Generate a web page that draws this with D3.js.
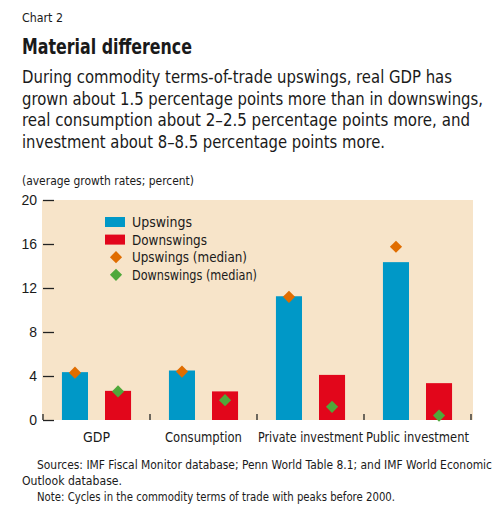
<!DOCTYPE html>
<html lang="en">
<head>
<meta charset="UTF-8">
<title>Material difference</title>
<script src="https://d3js.org/d3.v7.min.js"></script>
<style>
  body { margin: 0; background: #fff; }
  svg { display: block; }
  text { font-family: "DejaVu Sans Condensed", "Liberation Sans", sans-serif; fill: #1a1a1a; }
  .tick text { font-size: 14px; }
</style>
</head>
<body>
<svg id="chart" width="500" height="514"></svg>
<script>
// data
const categories = ["GDP", "Consumption", "Private investment", "Public investment"];
const upswings = [4.35, 4.5, 11.25, 14.35];
const downswings = [2.65, 2.6, 4.1, 3.35];
const upMedian = [4.3, 4.4, 11.2, 15.75];
const downMedian = [2.6, 1.8, 1.2, 0.4];
const yTicks = [0, 4, 8, 12, 16, 20];
const seriesNames = ["Upswings", "Downswings"];
const legendLabels = ["Upswings", "Downswings", "Upswings (median)", "Downswings (median)"];

const colors = { up: "#0098c7", down: "#e2061b", upMed: "#e06d00", downMed: "#4fa83a", bg: "#f7e4c9" };

const svg = d3.select("#chart");

// squeeze text to the condensed widths of the original typeface
function fit(sel, w) {
  sel.attr("textLength", w).attr("lengthAdjust", "spacingAndGlyphs");
  return sel;
}
function addText(x, y, size, str, w) {
  const t = svg.append("text").attr("x", x).attr("y", y).style("font-size", size + "px").text(str);
  if (w) fit(t, w);
  return t;
}

// header text
addText(22, 22, 12.5, "Chart 2", 41);
addText(22, 54, 20.5, "Material difference", 170).style("font-weight", "bold");
const subtitle = [
  "During commodity terms-of-trade upswings, real GDP has",
  "grown about 1.5 percentage points more than in downswings,",
  "real consumption about 2\u20132.5 percentage points more, and",
  "investment about 8\u20138.5 percentage points more."
];
const subtitleW = [430, 461, 448, 363];
subtitle.forEach((s, i) => addText(22, 83 + i * 21.7, 17, s, subtitleW[i]));
addText(22, 185, 12.5, "(average growth rates; percent)", 172);

// plot
const plotL = 43, plotR = 471, plotT = 200, plotB = 420;

const x0 = d3.scaleBand().domain(categories).range([plotL, plotR]);
const x1 = d3.scaleBand().domain(seriesNames).range([0, x0.bandwidth()])
  .paddingInner(0.395).paddingOuter(0.44);
const y = d3.scaleLinear().domain([0, 20]).range([plotB, plotT]);

svg.append("rect").attr("x", plotL - 1).attr("y", plotT).attr("width", plotR - plotL + 3).attr("height", plotB - plotT)
  .attr("fill", colors.bg);

// y axis, ticks inside the plot
const yAxis = svg.append("g").attr("transform", `translate(${plotL},0)`)
  .call(d3.axisLeft(y).tickValues(yTicks).tickSize(-11).tickPadding(6));
yAxis.select(".domain").remove();
yAxis.selectAll(".tick line").attr("stroke", "#222").attr("stroke-width", 1.3);
yAxis.selectAll(".tick text").attr("fill", "#1a1a1a").style("font-family", "Liberation Sans, sans-serif");

// group boundary ticks along the bottom
const bounds = categories.map(c => x0(c)).concat([plotR]);
svg.append("g").selectAll("line").data(bounds).join("line")
  .attr("x1", d => d).attr("x2", d => d)
  .attr("y1", plotB).attr("y2", plotB - 6)
  .attr("stroke", "#222").attr("stroke-width", 1.3);

// category labels
const catW = [27, 77, 105, 103];
svg.append("g").selectAll("text").data(categories).join("text")
  .attr("x", d => x0(d) + x0.bandwidth() / 2)
  .attr("y", 442)
  .attr("text-anchor", "middle")
  .style("font-size", "14px")
  .attr("textLength", (d, i) => catW[i]).attr("lengthAdjust", "spacingAndGlyphs")
  .text(d => d);

// bars
const groups = svg.append("g").selectAll("g").data(categories).join("g")
  .attr("transform", d => `translate(${x0(d)},0)`);

groups.append("rect")
  .attr("x", x1("Upswings")).attr("width", x1.bandwidth())
  .attr("y", (d, i) => y(upswings[i])).attr("height", (d, i) => y(0) - y(upswings[i]))
  .attr("fill", colors.up);
groups.append("rect")
  .attr("x", x1("Downswings")).attr("width", x1.bandwidth())
  .attr("y", (d, i) => y(downswings[i])).attr("height", (d, i) => y(0) - y(downswings[i]))
  .attr("fill", colors.down);

// median diamonds
const diamond = d3.symbol().type(d3.symbolSquare).size(74);
groups.append("path")
  .attr("d", diamond)
  .attr("transform", (d, i) => `translate(${x1("Upswings") + x1.bandwidth() / 2},${y(upMedian[i])}) rotate(45)`)
  .attr("fill", colors.upMed);
groups.append("path")
  .attr("d", diamond)
  .attr("transform", (d, i) => `translate(${x1("Downswings") + x1.bandwidth() / 2},${y(downMedian[i])}) rotate(45)`)
  .attr("fill", colors.downMed);

// legend
const legendFill = [colors.up, colors.down, colors.upMed, colors.downMed];
const legendW = [60, 75, 115, 125];
const legend = svg.append("g").selectAll("g").data(legendLabels).join("g")
  .attr("transform", (d, i) => `translate(105,${222 + i * 17.6})`);
legend.each(function(d, i) {
  const g = d3.select(this);
  if (i < 2) {
    g.append("rect").attr("x", 0).attr("y", -5).attr("width", 20).attr("height", 10).attr("fill", legendFill[i]);
  } else {
    g.append("path").attr("d", diamond).attr("transform", "translate(11,0) rotate(45)").attr("fill", legendFill[i]);
  }
  fit(g.append("text").attr("x", 27).attr("y", 5).style("font-size", "14px").text(d), legendW[i]);
});

// footer
addText(37, 469, 11.5, "Sources:  IMF Fiscal Monitor database; Penn World Table 8.1; and IMF World Economic", 455);
addText(22, 485, 11.5, "Outlook database.", 100);
addText(37, 501, 11.5, "Note: Cycles in the commodity terms of trade with peaks before 2000.", 358);
</script>
</body>
</html>
